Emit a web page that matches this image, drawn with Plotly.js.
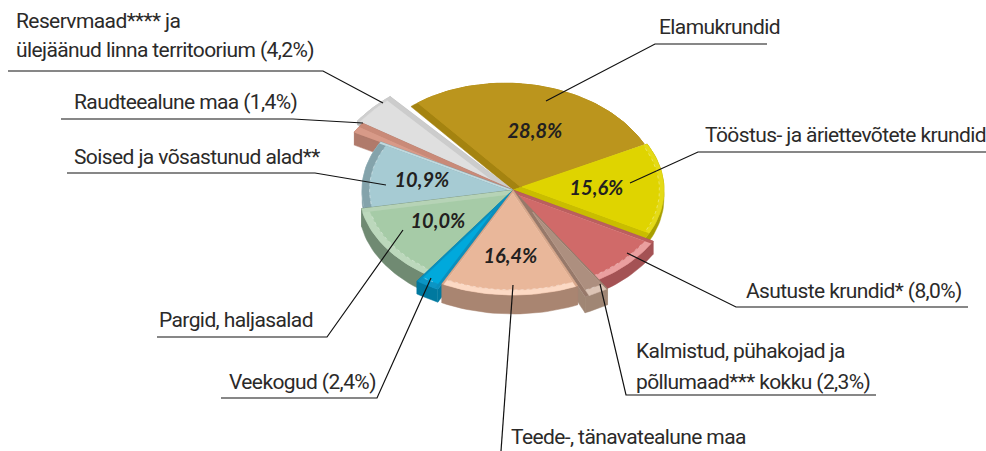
<!DOCTYPE html>
<html><head><meta charset="utf-8">
<script src="https://cdn.plot.ly/plotly-3.0.1.min.js"></script>
<style>html,body{margin:0;padding:0;background:#fff}#c{width:986px;height:451px}
text{letter-spacing:-0.6px}
.annotation[data-index="12"] text,.annotation[data-index="13"] text,.annotation[data-index="14"] text,.annotation[data-index="15"] text,.annotation[data-index="16"] text{letter-spacing:0}
</style>
</head><body><div id="c"></div>
<script>
// ---- data ----
const categories = ["Elamukrundid","Tööstus- ja äriettevõtete krundid","Asutuste krundid","Kalmistud, pühakojad ja põllumaad","Teede-, tänavatealune maa","Veekogud","Pargid, haljasalad","Soised ja võsastunud alad","Raudteealune maa","Reservmaad ja ülejäänud linna territoorium"];
const shares = [28.8,15.6,8.0,2.3,16.4,2.4,10.0,10.9,1.4,4.2];
const inSliceLabel = [true,true,false,false,true,false,true,true,false,false];

// ---- styling of the slices ----
const topColors   = ["#bb951d","#dfd400","#d06a69","#ad8f7f","#e9b79a","#00a9dc","#a6cba7","#a6cbd3","#d89a88","#dfdfdf"];
const rimColors   = ["#bb951d","#e4da16","#ea9f9f","#dcc4b5","#fcd9c4","#0b95c4","#bcd8bc","#84a3ab","#d89a88","#cfcfcf"];
const stripColors = ["#a48310","#c9bd00","#bb5f5f","#97796a","#d9a98d","#0a8fbd","#b6d3b6","#c0d9de","#c98a78","#cccccc"];
const wallColors  = ["#8f7210","#a89f00","#a45254","#a08674","#a98571","#00799f","#708a72","#7c9aa3","#b07a6b","#b9b9b9"];
const radiusScale = [1.00,1.00,1.06,1.17,1.05,1.11,1.02,1.00,1.20,1.24];
const depths      = [0,8,13,16,19,13,18,8,13,4];
const stripStart  = [7,0,3,1,2,3,0,0,0,0];
const stripEnd    = [0,6,0,4,2,2,4,2,5,5];
const rimWidth    = [0,.03,.05,.06,.05,.05,.05,.05,.01,.02];
const arcShiftX   = [-3,0,0,0,0,0,0,0,0,0];
const arcShiftY   = [-8,0,0,0,0,0,0,0,0,0];
const cx = 513, cy = 190, rx = 151, ry = 100, startDeg = -41;

const total = shares.reduce((a,b)=>a+b,0);
const rad = d=>d*Math.PI/180;
// the drawing's perspective squeezes the front-left part of the disc
const warp = d=>d-9*Math.exp(-Math.pow((d-220)/18,2));
let traces = [];
function poly(pts,color){
  if(pts.length<3) return;
  traces.push({type:"scatter",mode:"lines",x:pts.map(p=>p[0]),y:pts.map(p=>p[1]),fill:"toself",fillcolor:color,
    line:{color:color,width:0.5},hoverinfo:"skip"});
}
function pathLine(pts,color,dash,w){
  traces.push({type:"scatter",mode:"lines",x:pts.map(p=>p[0]),y:pts.map(p=>p[1]),line:{color:color,width:w,dash:dash},hoverinfo:"skip"});
}
function clip(pts,a,b,ref,w){
  let nx=-(b[1]-a[1]),ny=b[0]-a[0];const L=Math.hypot(nx,ny);nx/=L;ny/=L;
  if((ref[0]-a[0])*nx+(ref[1]-a[1])*ny<0){nx=-nx;ny=-ny;}
  const f=p=>(p[0]-a[0])*nx+(p[1]-a[1])*ny-w;
  const out=[];
  pts.forEach((p,i)=>{const q=pts[(i+1)%pts.length],fp=f(p),fq=f(q);
    if(fp>=0)out.push(p);
    if(fp*fq<0){const t=fp/(fp-fq);out.push([p[0]+(q[0]-p[0])*t,p[1]+(q[1]-p[1])*t]);}
  });
  return out;
}
let slices=[],acc=startDeg;
shares.forEach((v,i)=>{const span=v/total*360;slices.push({i,a0:warp(acc),a1:warp(acc+span)});acc+=span;});
slices.forEach(s=>s.mid=(s.a0+s.a1)/2);
const order = slices.slice().sort((a,b)=>Math.cos(rad(b.mid))-Math.cos(rad(a.mid)));
order.forEach(s=>{
  const i=s.i,R=radiusScale[i],d=depths[i];
  const P=(deg,r,z)=>{
    const t=(deg-s.a0)/(s.a1-s.a0),taper=1-t*t;
    return [cx+arcShiftX[i]+rx*r*Math.sin(rad(deg)),cy+arcShiftY[i]*taper-ry*r*Math.cos(rad(deg))+z];
  };
  const apex=[cx,cy];
  const arc=(r,z)=>{const out=[],n=Math.max(5,Math.ceil((s.a1-s.a0)/2));for(let k=0;k<=n;k++)out.push(P(s.a0+(s.a1-s.a0)*k/n,r,z));return out;};
  if(d>0){
    const top=arc(R,0),bot=arc(R,d).reverse(),apb=[cx,cy+d];
    poly([apex,top[0],bot[bot.length-1],apb],wallColors[i]);
    poly([apex,top[top.length-1],bot[0],apb],wallColors[i]);
    poly(top.concat(bot),wallColors[i]);
  }
  const A=P(s.a0,R,0),B=P(s.a1,R,0),C=P(s.mid,R,0);
  const inset=(pts)=>clip(clip(pts,apex,A,C,stripStart[i]),apex,B,C,stripEnd[i]);
  poly([apex].concat(arc(R,0)),stripColors[i]);
  poly(inset([apex].concat(arc(R,0))),rimColors[i]);
  poly(inset([apex].concat(arc(R-rimWidth[i],0))),topColors[i]);
  if(rimWidth[i]>=.03) pathLine(inset([apex].concat(arc(R-rimWidth[i],0))).slice(2,-1),"rgba(255,255,255,.45)","dot",0.8);
});

// ---- texts ----
const labels = ["Reservmaad**** ja","ülejäänud linna territoorium (4,2%)","Raudteealune maa (1,4%)","Soised ja võsastunud alad**","Elamukrundid","Tööstus- ja äriettevõtete krundid","Asutuste krundid* (8,0%)","Kalmistud, pühakojad ja","põllumaad*** kokku (2,3%)","Teede-, tänavatealune maa","Pargid, haljasalad","Veekogud (2,4%)"];
const labelX = [14,14,72,72,657,703,744,634,634,509,157,227];
const labelY = [21,50,102,157,27,135,291,351,382,437,320,382];
const annotations = labels.map((t,i)=>({text:t,x:labelX[i],y:labelY[i],xref:"x",yref:"y",xanchor:"left",yanchor:"middle",showarrow:false,
  font:{family:"Roboto",size:21,color:"#2b2a29"}}));
const pctPos = {0:[535,130],1:[596,187],4:[510,255],6:[438,220],7:[422,179]};
slices.filter(s=>inSliceLabel[s.i]).forEach(s=>annotations.push({text:"<b><i>"+shares[s.i].toFixed(1).replace(".",",")+"%</i></b>",x:pctPos[s.i][0],y:pctPos[s.i][1],showarrow:false,xref:"x",yref:"y",
  font:{family:"Lato",size:20,color:"#231f20"}}));

// ---- leader lines ----
const leaders = [
 [[383,103],[323,71],[8,71]],
 [[363,123],[293,119],[61,119]],
 [[386,185],[315,173],[67,173]],
 [[546,101],[655,44],[767,44]],
 [[630,183],[698,152],[986,152]],
 [[627,253],[736,307],[968,307]],
 [[600,284],[626,395],[876,395]],
 [[513,285],[501,451]],
 [[403,230],[327,337],[157,337]],
 [[431,278],[377,398],[221,398]]
];
const shapes = leaders.map(l=>({type:"path",layer:"above",xref:"x",yref:"y",path:"M"+l.map(p=>p.join(",")).join("L"),line:{color:"#111",width:1.2}}));

Plotly.newPlot("c",traces,{
  width:986,height:451,margin:{l:0,r:0,t:0,b:0},showlegend:false,
  paper_bgcolor:"#fff",plot_bgcolor:"#fff",
  xaxis:{range:[0,986],visible:false,fixedrange:true},
  yaxis:{range:[451,0],visible:false,fixedrange:true},
  annotations,shapes
},{displayModeBar:false,staticPlot:true});
</script></body></html>
